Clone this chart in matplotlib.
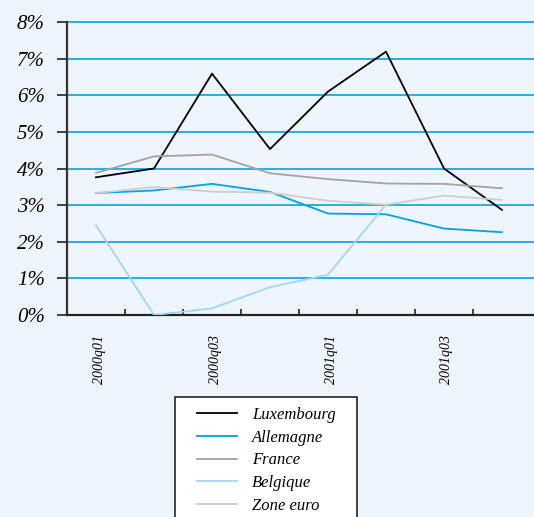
import numpy as np
import matplotlib
matplotlib.use("Agg")
import matplotlib.pyplot as plt
from matplotlib.patches import Rectangle
from matplotlib.font_manager import FontProperties
from matplotlib.transforms import offset_copy

quarters = ["2000q01", "2000q02", "2000q03", "2000q04",
            "2001q01", "2001q02", "2001q03", "2001q04"]
luxembourg = [3.76, 4.00, 6.59, 4.53, 6.10, 7.19, 4.00, 2.87]
allemagne = [3.33, 3.40, 3.58, 3.36, 2.77, 2.75, 2.36, 2.26]
france = [3.88, 4.33, 4.38, 3.87, 3.71, 3.59, 3.58, 3.46]
belgique = [2.45, 0.00, 0.18, 0.76, 1.10, 3.01, np.nan, np.nan]
zone_euro = [3.33, 3.49, 3.37, 3.34, 3.12, 3.01, 3.26, 3.14]
y_ticks = [0, 1, 2, 3, 4, 5, 6, 7, 8]

series = [
    ("Luxembourg", luxembourg, "#000000"),
    ("Allemagne", allemagne, "#00A3E6"),
    ("France", france, "#A3A3A3"),
    ("Belgique", belgique, "#A2D6F4"),
    ("Zone euro", zone_euro, "#CDCDCD"),
]

bg = "#EEF5FC"
plt.rcParams["font.family"] = ["Liberation Serif", "DejaVu Serif"]
plt.rcParams["font.style"] = "italic"

def italic(size):
    return FontProperties(family="Liberation Serif", style="italic", size=size)

W, H = 534, 517
fig = plt.figure(figsize=(W / 100, H / 100), dpi=100, facecolor=bg)
# plot area runs to the right edge of the figure
ax = fig.add_axes([67 / W, 1 - 315 / H, 467 / W, 293 / H])
ax.set_facecolor(bg)

n = len(quarters)
x = np.arange(n)
for name, vals, col in series:
    ax.plot(x, vals, color=col, lw=1.3, label=name, zorder=3)

ax.set_xlim(-0.5, n - 0.5 + 3 / 58)
ax.set_ylim(0, 8)
ax.set_yticks(y_ticks)
ax.set_yticklabels([f"{v}%" for v in y_ticks], fontproperties=italic(15))
for v in y_ticks[1:]:
    ax.axhline(v, color="#1AA8E2", lw=1.3, zorder=1, clip_on=False)

# category boundaries as tick marks
ax.set_xticks(np.arange(-0.5, n - 1, 1.0))
ax.set_xticklabels([])
ax.tick_params(axis="x", direction="in", length=4, width=1.2, color="#222222")
ax.tick_params(axis="y", direction="out", length=7, width=1.2, color="#222222", pad=9)

lbl_tr = offset_copy(ax.transData, fig=fig, x=3, y=0, units="dots")
for i in range(0, n, 2):
    ax.text(x[i], -0.55, quarters[i], rotation=90, ha="center", va="top",
            fontproperties=italic(10), transform=lbl_tr, clip_on=False)

for s in ("top", "right"):
    ax.spines[s].set_visible(False)
ax.spines["left"].set_color("#333333")
ax.spines["left"].set_linewidth(1.6)
ax.spines["bottom"].set_color("#222222")
ax.spines["bottom"].set_linewidth(1.6)

# legend box, open past the bottom edge of the figure
fig.patches.append(Rectangle((175 / W, -0.05), (357 - 175) / W, 0.05 + (H - 397) / H,
                             transform=fig.transFigure, facecolor="white",
                             edgecolor="#222222", lw=1.2, zorder=5))
leg = fig.legend(loc="upper left", bbox_to_anchor=(197 / W, 1 - 407 / H),
                 frameon=False, prop=italic(12), handlelength=2.4, handletextpad=0.9,
                 labelspacing=0.4, borderpad=0, borderaxespad=0)
leg.set_zorder(6)

fig.savefig("out.png", dpi=100, facecolor=bg)
